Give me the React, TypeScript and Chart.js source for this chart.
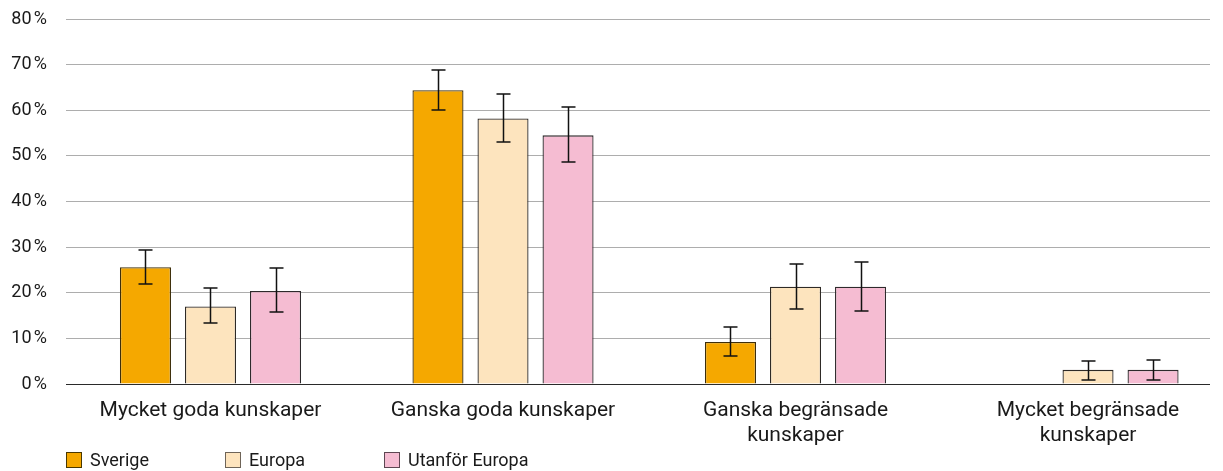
import React, { useEffect, useRef } from "react";
import { Chart, registerables } from "chart.js";

Chart.register(...registerables);

const categories: (string | string[])[] = [
  "Mycket goda kunskaper",
  "Ganska goda kunskaper",
  ["Ganska begränsade", "kunskaper"],
  ["Mycket begränsade", "kunskaper"],
];

const seriesNames = ["Sverige", "Europa", "Utanför Europa"];
const seriesColors = ["#F5A800", "#FDE4BE", "#F5BCD2"];
const seriesBorders = ["#3d2e0a", "#2e2a26", "#2e2a2c"];
const legendBorders = ["#4a3800", "#6e6458", "#5e4652"];

const sverige = [25.6, 64.4, 9.2, null];
const sverigeLow = [21.9, 60.1, 6.1, null];
const sverigeHigh = [29.4, 68.8, 12.4, null];

const europa = [17.0, 58.2, 21.3, 3.1];
const europaLow = [13.3, 53.0, 16.4, 0.9];
const europaHigh = [21.0, 63.6, 26.3, 5.0];

const utanfor = [20.4, 54.5, 21.3, 3.1];
const utanforLow = [15.8, 48.7, 16.1, 0.9];
const utanforHigh = [25.4, 60.7, 26.7, 5.3];

const yMin = 0;
const yMax = 80;
const yStep = 10;

const seriesValues = [sverige, europa, utanfor];
const seriesLow = [sverigeLow, europaLow, utanforLow];
const seriesHigh = [sverigeHigh, europaHigh, utanforHigh];

const FONT = "Roboto, 'Noto Sans', sans-serif";

const errorBarPlugin = {
  id: "errorBars",
  afterDatasetsDraw(chart: any) {
    const { ctx } = chart;
    const yScale = chart.scales.y;
    ctx.save();
    ctx.strokeStyle = "#111";
    ctx.lineWidth = 1.5;
    chart.data.datasets.forEach((_ds: any, i: number) => {
      const meta = chart.getDatasetMeta(i);
      const lo = seriesLow[i];
      const hi = seriesHigh[i];
      meta.data.forEach((bar: any, j: number) => {
        if (lo[j] == null || hi[j] == null) return;
        const x = Math.round(bar.x) + 0.5;
        const yl = Math.round(yScale.getPixelForValue(lo[j]));
        const yh = Math.round(yScale.getPixelForValue(hi[j]));
        const cap = 7;
        ctx.beginPath();
        ctx.moveTo(x, yl);
        ctx.lineTo(x, yh);
        ctx.moveTo(x - cap, yl);
        ctx.lineTo(x + cap, yl);
        ctx.moveTo(x - cap, yh);
        ctx.lineTo(x + cap, yh);
        ctx.stroke();
      });
    });
    ctx.restore();
  },
};

export default function App() {
  const ref = useRef<HTMLCanvasElement>(null);

  useEffect(() => {
    document.body.style.margin = "0";
    if (!ref.current) return;
    const chart = new Chart(ref.current, {
      type: "bar",
      data: {
        labels: categories,
        datasets: seriesNames.map((name, i) => ({
          label: name,
          data: seriesValues[i],
          backgroundColor: seriesColors[i],
          borderColor: seriesBorders[i],
          borderWidth: 1.3,
          categoryPercentage: 0.667,
          barPercentage: 0.785,
        })),
      },
      options: {
        responsive: false,
        animation: false,
        layout: { padding: { top: 11, right: 5, bottom: 0, left: 0 } },
        plugins: {
          legend: { display: false },
          tooltip: { enabled: false },
        },
        scales: {
          x: {
            grid: { display: false },
            border: { display: false },
            ticks: {
              color: "#1a1a1a",
              font: { family: FONT, size: 21, lineHeight: 1.2 },
              padding: 6,
              maxRotation: 0,
              autoSkip: false,
            },
            afterBuildTicks: (scale: any) => {
              scale._startValue = -0.494;
              scale._valueRange = 3.911;
            },
            afterFit: (scale: any) => {
              scale.height = 68;
            },
          },
          y: {
            min: yMin,
            max: yMax,
            border: { display: false },
            grid: {
              drawTicks: false,
              color: (c: any) => (c.tick && c.tick.value === 0 ? "#2a2a2a" : "#adadad"),
              lineWidth: 1,
            },
            ticks: {
              stepSize: yStep,
              color: "#1a1a1a",
              font: { family: FONT, size: 18 },
              padding: 19,
              callback: (v: any) => `${v}\u202F%`,
            },
            afterFit: (scale: any) => {
              scale.width = 58;
              scale.paddingTop = 0;
              scale.paddingBottom = 0;
            },
          },
        },
      },
      plugins: [errorBarPlugin],
    });
    return () => chart.destroy();
  }, []);

  return (
    <div
      style={{
        position: "relative",
        width: 1223,
        height: 471,
        boxSizing: "border-box",
        paddingLeft: 8,
        paddingTop: 8,
        overflow: "hidden",
      }}
    >
      <canvas ref={ref} width={1207} height={444} style={{ display: "block" }} />
      <div
        style={{
          position: "absolute",
          left: 66,
          top: 452,
          display: "flex",
          fontFamily: FONT,
          fontSize: 18,
          color: "#1a1a1a",
          lineHeight: "16px",
        }}
      >
        {seriesNames.map((name, i) => (
          <div key={name} style={{ display: "flex", alignItems: "center", width: 159 }}>
            <span
              style={{
                display: "inline-block",
                width: 14,
                height: 14,
                background: seriesColors[i],
                border: `1px solid ${legendBorders[i]}`,
                marginRight: 8,
              }}
            />
            <span>{name}</span>
          </div>
        ))}
      </div>
    </div>
  );
}
